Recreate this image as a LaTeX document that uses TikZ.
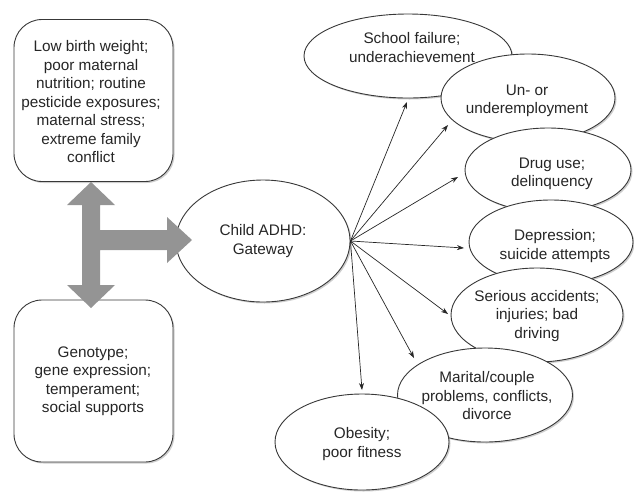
\documentclass[tikz,border=0pt]{standalone}
\usepackage{fontspec}
\setmainfont{Liberation Sans}
\usetikzlibrary{shapes.geometric,arrows.meta,shadows}
\begin{document}
\begin{tikzpicture}[x=1pt,y=-1pt,
  shad/.style={drop shadow={shadow xshift=1.5pt,shadow yshift=-1.5pt,opacity=0.35,fill=black!55}},
  bub/.style={ellipse,draw=black!78,line width=0.9pt,fill=white,inner sep=0pt,shad},
  box/.style={rectangle,rounded corners=28pt,draw=black!78,line width=0.9pt,fill=white,inner sep=0pt,shad,
    minimum width=159pt,minimum height=162pt},
  lbl/.style={align=center,font=\fontsize{15.3}{18.5}\selectfont,text=black!85,inner sep=0pt},
  link/.style={-{Stealth[length=7pt,width=5pt]},line width=0.7pt,draw=black!85},
  fat/.style={fill=black!42,draw=none}]
\useasboundingbox (0,0) rectangle (634,491);

% left boxes
\node[box] (low) at (93.5,100.5) {};
\node[lbl] (lowt) at (91,102) {Low birth weight;\\poor maternal\\nutrition; routine\\pesticide exposures;\\maternal stress;\\extreme family\\conflict};
\node[box] (geno) at (93.5,381) {};
\node[lbl] (genot) at (93,381) {Genotype;\\gene expression;\\temperament;\\social supports};

% gateway
\node[bub,minimum width=174pt,minimum height=122pt] (adhd) at (263,241) {};
\node[lbl] (adhdt) at (263,241) {Child ADHD:\\Gateway};

% outcomes
\node[bub,minimum width=208pt,minimum height=84pt] (school) at (408,56) {};
\node[lbl] (schoolt) at (412,47.5) {School failure;\\underachievement};
\node[bub,minimum width=174pt,minimum height=88pt] (unemp) at (528,98) {};
\node[lbl] (unempt) at (527,101) {Un- or\\underemployment};
\node[bub,minimum width=166pt,minimum height=84pt] (drug) at (548,170) {};
\node[lbl] (drugt) at (552,174) {Drug use;\\delinquency};
\node[bub,minimum width=164pt,minimum height=84pt] (depr) at (551,242) {};
\node[lbl] (deprt) at (555,246) {Depression;\\suicide attempts};
\node[bub,minimum width=172pt,minimum height=94pt] (serious) at (537,315) {};
\node[lbl] (seriont) at (537,316) {Serious accidents;\\injuries; bad\\driving};
\node[bub,minimum width=175pt,minimum height=94pt] (marital) at (485,395) {};
\node[lbl] (maritalt) at (487,396) {Marital/couple\\problems, conflicts,\\divorce};
\node[bub,minimum width=174pt,minimum height=96pt] (obes) at (362,442) {};
\node[lbl] (obest) at (362,444) {Obesity;\\poor fitness};

% arrow ends
\coordinate (t1) at (407,102);
\coordinate (t2) at (448,125);
\coordinate (t3) at (458,177);
\coordinate (t4) at (464,248);
\coordinate (t5) at (448,314);
\coordinate (t6) at (414,358);
\coordinate (t7) at (362,390);
\foreach \t in {t1,t2,t3,t4,t5,t6,t7}
  \draw[link] (adhd.east) -- (\t);

% thick gray arrow
\path[fat] (91,182) -- (115,205) -- (100,205) -- (100,230) -- (167,230) -- (167,217)
  -- (192,240) -- (167,263) -- (167,250) -- (100,250) -- (100,285) -- (115,285)
  -- (91,308) -- (67,285) -- (82,285) -- (82,205) -- (67,205) -- cycle;
\end{tikzpicture}
\end{document}
